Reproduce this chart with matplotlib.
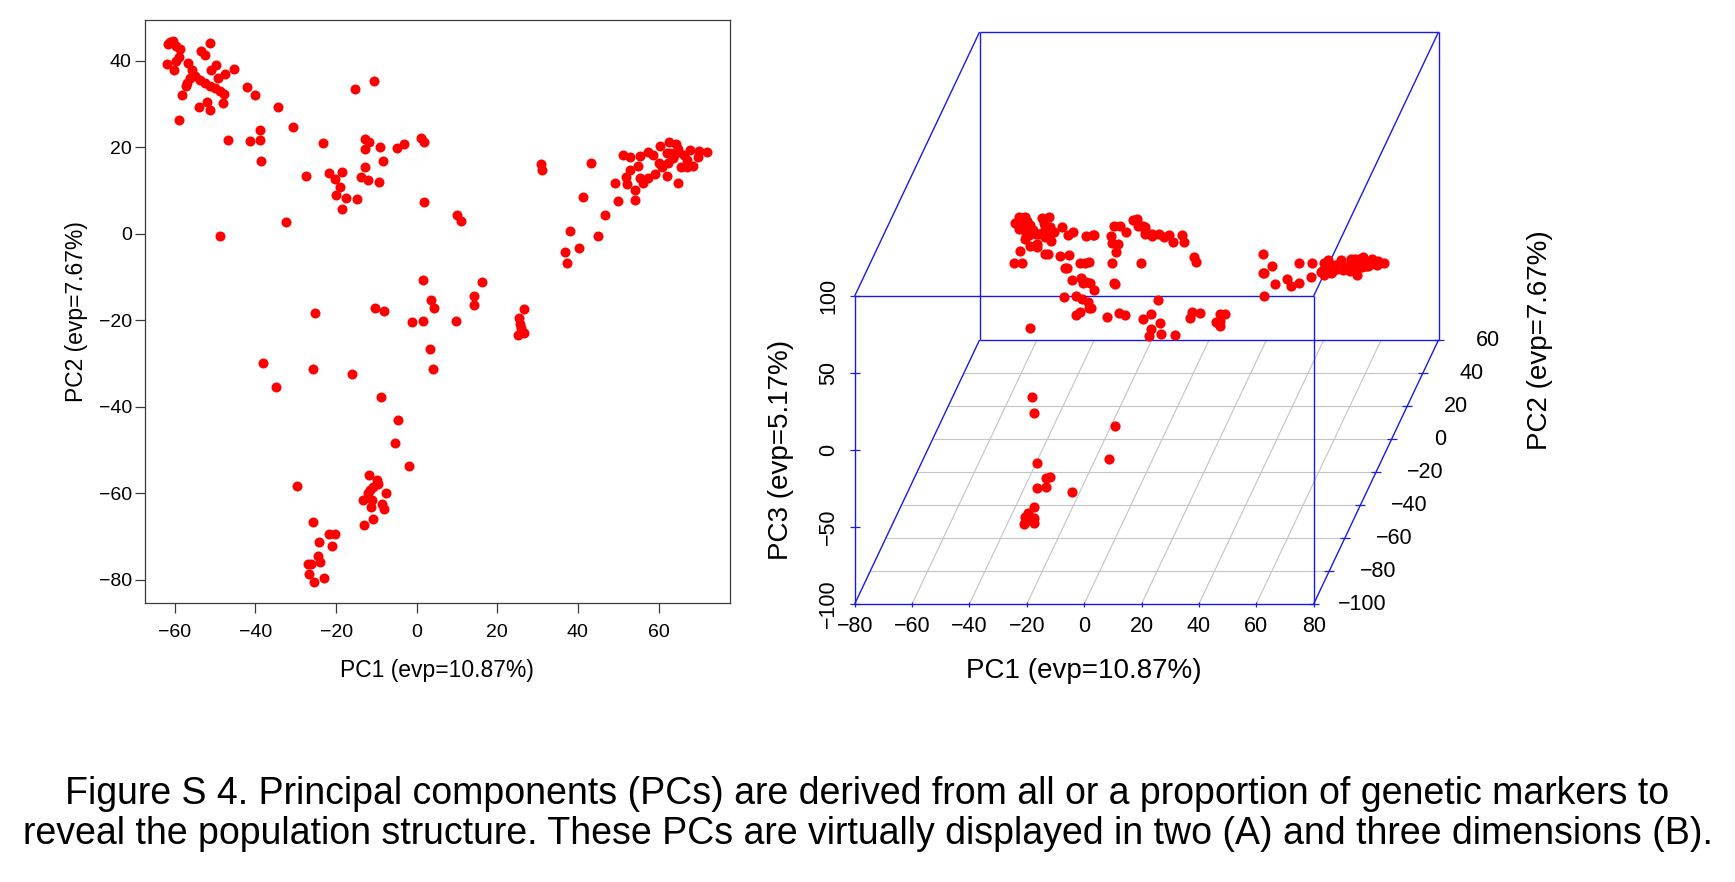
import matplotlib
matplotlib.use("Agg")
import matplotlib.pyplot as plt
from matplotlib import transforms
import numpy as np

plt.rcParams["font.family"] = ["Liberation Sans", "DejaVu Sans"]

# sample scores on the first three principal components
PC1 = [
    -61.2, -60.5, -61.8, -59.6, -58.6, -58.9, -59.6, -62.0, -60.2, -56.7,
    -55.8, -53.5, -52.5, -51.3, -49.8, -51.0, -47.6, -45.3, -49.4, -56.3,
    -55.0, -53.8, -57.1, -57.2, -52.5, -51.3, -50.0, -48.8, -47.7, -58.3,
    -51.9, -54.0, -51.3, -48.0, -58.9, -42.2, -40.0, -34.5, -46.9, -41.3,
    -38.9, -38.9, -38.5, -30.8, -23.3, -27.5, -21.7, -20.3, -18.5, -19.0,
    -19.9, -17.5, -18.5, -14.9, -32.3, -48.7, -15.2, -10.7, -12.7, -11.9,
    -12.7, -9.1, -8.3, -12.7, -13.9, -12.1, -9.4, -4.8, -3.2, 1.0,
    1.8, 1.9,
    1.6, 3.5, 4.4, 1.5, 3.4, 4.0, 9.9, 11.0, 16.1, 14.2,
    14.3, 9.8, 30.8, 31.2, 26.5, 25.3, 25.6, 26.0, 26.5, 25.2,
    43.3, 41.2, 38.0, 40.2, 36.8, 37.2, 45.1, 46.7, 50.0, 54.2,
    49.2, 54.2, 52.1, 53.0, 52.0, 55.0, 51.3, 52.8, 55.4, 57.3,
    58.7, 60.4, 62.7, 64.3, 64.9, 62.9, 63.7, 62.4, 60.8, 59.1,
    57.5, 56.1, 55.4, 62.0, 64.8, 66.2, 67.0, 65.5, 68.6, 69.9,
    70.1, 72.1, 67.8, 64.1, 62.0, 60.0, 67.0,
    -25.2, -10.3, -8.1, -1.1, -38.1, -25.6, -34.9, -16.0, -8.9, -4.6,
    -5.3, -1.8, -29.6, -11.8, -9.9, -9.5, -10.8, -11.6, -12.0, -7.6,
    -13.2, -11.2, -11.4, -8.7, -8.1, -10.8, -13.1, -25.6, -21.7, -20.3,
    -24.2, -20.9, -24.4, -26.9, -26.1, -24.0, -26.6, -25.5, -23.0,
]
PC2 = [
    44.4, 44.6, 43.8, 43.3, 42.7, 40.8, 39.9, 39.3, 37.8, 39.4,
    37.8, 42.3, 41.3, 44.1, 39.0, 37.8, 36.9, 38.1, 36.0, 36.0,
    36.4, 35.6, 34.8, 34.2, 34.8, 34.2, 33.6, 32.9, 32.3, 32.1,
    30.4, 29.2, 28.7, 30.1, 26.3, 33.9, 32.1, 29.4, 21.7, 21.4,
    24.0, 21.6, 16.9, 24.6, 21.0, 13.3, 14.1, 12.6, 14.3, 10.7,
    8.9, 8.3, 5.8, 7.9, 2.8, -0.6, 33.5, 35.3, 21.9, 21.3,
    19.6, 20.1, 16.8, 15.3, 13.2, 12.3, 12.0, 19.9, 20.7, 22.2,
    21.3, 7.2,
    -10.7, -15.4, -17.3, -20.2, -26.6, -31.2, 4.2, 2.9, -11.1, -14.4,
    -16.5, -20.2, 16.0, 14.7, -17.5, -19.5, -20.8, -21.9, -22.9, -23.5,
    16.3, 8.5, 0.6, -3.3, -4.2, -6.9, -0.6, 4.2, 7.5, 7.7,
    11.6, 10.2, 11.4, 14.6, 13.2, 15.6, 18.2, 17.8, 18.0, 18.8,
    18.2, 20.3, 21.2, 20.7, 19.5, 18.7, 17.4, 16.3, 15.5, 13.9,
    12.8, 11.8, 12.8, 13.3, 11.6, 18.2, 17.0, 15.5, 15.6, 17.8,
    19.0, 18.9, 19.3, 18.3, 18.6, 16.3, 15.5,
    -18.3, -17.1, -17.9, -20.4, -30.0, -31.4, -35.5, -32.5, -37.8, -43.2,
    -48.5, -53.8, -58.3, -55.9, -57.0, -57.8, -58.6, -59.3, -60.1, -59.9,
    -61.5, -61.7, -63.2, -62.6, -63.6, -66.0, -67.4, -66.8, -69.5, -69.4,
    -71.3, -72.3, -74.6, -76.5, -76.3, -75.9, -78.8, -80.6, -79.6,
]
PC3 = [
    -5, -4, -3, -2, -4, -3, -5, -2, -4, -3,
    -5, -2, -4, -3, -4, -2, -5, -3, -4, -6,
    -3, -5, -4, -7, -4, -3, -5, -4, -6, -12,
    -8, -6, -4, -12, -14, -4, 0, 0, -3, -4,
    -6, -12, -7, 6, 5, 18, 17, 25, 23, 10,
    5, 18, -5, 26, 0, 15, 0, -5, 15, 10,
    -7, 10, 15, 22, 28, 30, 25, 10, 10, 9,
    5, 20,
    2, -8, -13, 3, 0, 0, 14, 12, -6, -2,
    -4, -11, 3, -8, 0, 2, -3, 0, -2, 1,
    -3, -5, 12, 4, 12, 0, 0, -3, -3, -2,
    2, 0, -4, -6, -5, -7, -5, -3, -6, -4,
    -8, -5, -6, -4, -7, -5, -3, -6, -4, -5,
    -3, -4, -6, -5, -6, -4, -6, -5, -3, -6,
    -5, -6, -4, -5, -3, -6, -4,
    0, 0, 0, 0, 4, 26, -45, 20, 20, 47,
    -61, -34, -10, 74, 76, 63, 65, 65, 69, 61,
    59, 57, 50, 56, 53, 85, -62, -60, -51, -50,
    -39, -54, -64, -69, -66, -70, -71, -67, -69,
]

PC1_LABEL = "PC1 (evp=10.87%)"
PC2_LABEL = "PC2 (evp=7.67%)"
PC3_LABEL = "PC3 (evp=5.17%)"

X_TICKS_2D = [-60, -40, -20, 0, 20, 40, 60]
Y_TICKS_2D = [-80, -60, -40, -20, 0, 20, 40]

X_TICKS_3D = [-80, -60, -40, -20, 0, 20, 40, 60, 80]
Y_TICKS_3D = [-100, -80, -60, -40, -20, 0, 20, 40, 60]
Z_TICKS_3D = [-100, -50, 0, 50, 100]

CAPTION = [
    "Figure S 4. Principal components (PCs) are derived from all or a proportion of genetic markers to",
    "reveal the population structure. These PCs are virtually displayed in two (A) and three dimensions (B).",
]

RED = "#ff0000"
BLUE = "#1a1ae6"
GRID = "#c4c4c4"
FRAME = "#3a3a3a"

W, H = 1735, 882
fig = plt.figure(figsize=(W / 100, H / 100), dpi=100)


def px_box(left, top, right, bottom):
    return [left / W, 1 - bottom / H, (right - left) / W, (bottom - top) / H]


def minus(v):
    return str(v).replace("-", "\u2212")


# ---- (A) 2D scatter -------------------------------------------------------
ax1 = fig.add_axes(px_box(145, 19.6, 729.5, 603.3))
ax1.scatter(PC1, PC2, s=52, c=RED, linewidths=0, zorder=3)
ax1.set_xlim(-67.4, 77.6)
ax1.set_ylim(-85.5, 49.5)
ax1.set_xticks(X_TICKS_2D)
ax1.set_yticks(Y_TICKS_2D)
ax1.tick_params(direction="out", length=7, width=0.9, color=FRAME, labelsize=14)
ax1.tick_params(axis="x", pad=8)
ax1.tick_params(axis="y", pad=2.5)
for sp in ax1.spines.values():
    sp.set_color(FRAME)
    sp.set_linewidth(0.9)
ax1.set_xlabel(PC1_LABEL, fontsize=16.5, va="center")
ax1.xaxis.set_label_coords(0.5, -(670 - 603.3) / 583.7)
ax1.set_ylabel(PC2_LABEL, fontsize=16.5, va="center")
ax1.yaxis.set_label_coords(-(145 - 76.7) / 584.5, 0.5)

# ---- (B) scatterplot3d-style oblique projection -----------------------------
xlo, xhi = X_TICKS_3D[0], X_TICKS_3D[-1]
ylo, yhi = Y_TICKS_3D[0], Y_TICKS_3D[-1]
zlo, zhi = Z_TICKS_3D[0], Z_TICKS_3D[-1]
KX, KY = 0.272, 1.0714  # depth shift per unit of PC2 (in PC1 / PC3 units)


def proj(x, y, z):
    x, y, z = np.broadcast_arrays(*(np.asarray(v, dtype=float) for v in (x, y, z)))
    return x + (y - ylo) * KX, z + (y - ylo) * KY


ax3 = fig.add_axes(px_box(854.7, 32, 1438.5, 604))
ax3.set_xlim(xlo, xhi + (yhi - ylo) * KX)
ax3.set_ylim(zlo, zhi + (yhi - ylo) * KY)
ax3.axis("off")


def seg(p0, p1, **kw):
    a = proj(*p0)
    b = proj(*p1)
    ax3.plot([a[0], b[0]], [a[1], b[1]], clip_on=False, solid_capstyle="butt", **kw)


# floor grid
for gx in X_TICKS_3D[1:-1]:
    seg((gx, ylo, zlo), (gx, yhi, zlo), color=GRID, lw=0.8, zorder=1)
for gy in Y_TICKS_3D[1:-1]:
    seg((xlo, gy, zlo), (xhi, gy, zlo), color=GRID, lw=0.8, zorder=1)

# the twelve box edges
corners = [(x, y, z) for x in (xlo, xhi) for y in (ylo, yhi) for z in (zlo, zhi)]
for i, c0 in enumerate(corners):
    for c1 in corners[i + 1:]:
        if sum(a != b for a, b in zip(c0, c1)) == 1:
            seg(c0, c1, color=BLUE, lw=1.0, zorder=2)

# tick marks
tx, ty = proj(X_TICKS_3D, ylo, zlo)
ax3.plot(tx, ty, ls="none", marker="|", ms=3.6, mew=0.9, color=BLUE, clip_on=False, zorder=2)
tx, ty = proj(xhi, Y_TICKS_3D, zlo)
ax3.plot(tx, ty, ls="none", marker="_", ms=6.5, mew=0.9, color=BLUE, clip_on=False, zorder=2)
tx, ty = proj(xlo, ylo, Z_TICKS_3D)
ax3.plot(tx, ty, ls="none", marker="_", ms=6.5, mew=0.9, color=BLUE, clip_on=False, zorder=2)

# points
sx, sy = proj(PC1, PC2, PC3)
ax3.scatter(sx, sy, s=54, c=RED, linewidths=0, zorder=3, clip_on=False)


def shifted(dx, dy):
    return transforms.offset_copy(ax3.transData, fig=fig, x=dx, y=dy, units="dots")


tick_fs = 15.5
lab_fs = 20
for v in X_TICKS_3D:
    px, py = proj(v, ylo, zlo)
    ax3.text(px, py, minus(v), transform=shifted(0, -22), ha="center", va="center",
             fontsize=tick_fs)
for v in Y_TICKS_3D:
    px, py = proj(xhi, v, zlo)
    ax3.text(px, py, minus(v), transform=shifted(49, 0), ha="center", va="center",
             fontsize=tick_fs)
for v in Z_TICKS_3D:
    px, py = proj(xlo, ylo, v)
    ax3.text(px, py, minus(v), transform=shifted(-26, 0), ha="center", va="center",
             fontsize=tick_fs, rotation=90)

px, py = proj((xlo + xhi) / 2, ylo, zlo)
ax3.text(px, py, PC1_LABEL, transform=shifted(0, -67), ha="center", va="center", fontsize=lab_fs)
px, py = proj(xlo, ylo, (zlo + zhi) / 2)
ax3.text(px, py, PC3_LABEL, transform=shifted(-74, 0), ha="center", va="center",
         fontsize=lab_fs, rotation=90)
px, py = proj(xhi, yhi, zlo)
ax3.text(px, py, PC2_LABEL, transform=shifted(101, 0), ha="center", va="center",
         fontsize=lab_fs, rotation=90)

# ---- caption ---------------------------------------------------------------
fig.text(0.5, 1 - 794 / H, CAPTION[0], ha="center", va="center", fontsize=27)
fig.text(0.5, 1 - 834 / H, CAPTION[1], ha="center", va="center", fontsize=27)

fig.savefig("out.png", dpi=100, facecolor="white")
